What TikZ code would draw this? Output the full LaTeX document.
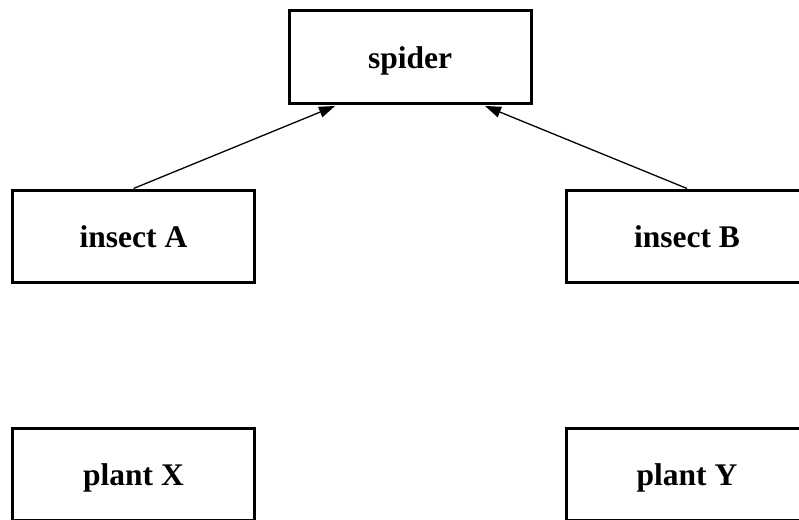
\documentclass[tikz,border=0pt]{standalone}
\usepackage{fontspec}
\setmainfont{Liberation Serif}
\usetikzlibrary{arrows.meta}
\tikzset{
  box/.style={draw, line width=3pt, minimum width=242pt, minimum height=92pt,
    inner sep=0pt, font=\fontsize{31.5}{36}\selectfont\bfseries,
    text height=22pt, text depth=0pt},
  link/.style={line width=1.3pt, -{Triangle[length=16pt,width=11pt]}}
}
\begin{document}
\begin{tikzpicture}[x=1pt,y=-1pt]
\useasboundingbox (0,0) rectangle (799,519);
\node[box] (spider) at (410,57) {spider};
\node[box] (insA) at (133.5,236) {insect A};
\node[box] (insB) at (687,236) {insect B};
\node[box] (plantX) at (133.5,474.5) {plant X};
\node[box] (plantY) at (687,474.5) {plant Y};
\draw[link] (insA.north) -- ([xshift=-75pt,yshift=-1.5pt]spider.south);
\draw[link] (insB.north) -- ([xshift=75pt,yshift=-1.5pt]spider.south);
\end{tikzpicture}
\end{document}
